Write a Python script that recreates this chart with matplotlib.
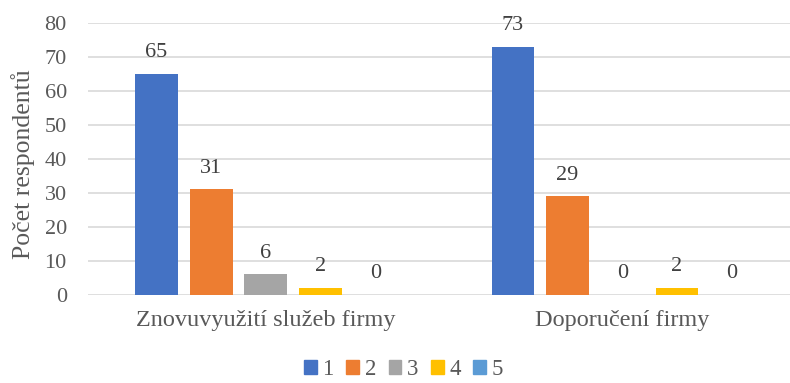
import matplotlib
matplotlib.use("Agg")
import matplotlib.pyplot as plt
from matplotlib.patches import Patch
import numpy as np

categories = ["Znovuvyužití služeb firmy", "Doporučení firmy"]
series = ["1", "2", "3", "4", "5"]
values = [
    [65, 73],  # 1
    [31, 29],  # 2
    [6, 0],    # 3
    [2, 2],    # 4
    [0, 0],    # 5
]
colors = ["#4472C4", "#ED7D31", "#A5A5A5", "#FFC000", "#5B9BD5"]
yticks = [0, 10, 20, 30, 40, 50, 60, 70, 80]

plt.rcParams['font.family'] = ['Liberation Serif', 'DejaVu Serif']
txt = "#595959"

fig = plt.figure(figsize=(7.9, 3.83), dpi=100)
# plot area runs a little past the right edge, as in the original crop
ax = fig.add_axes([0.1109, 0.2305, 0.9024, 0.7095])

x = np.arange(len(categories))
step = 0.1534
width = 0.1198
for i, (name, vals) in enumerate(zip(series, values)):
    pos = x + (i - 2) * step
    bars = ax.bar(pos, vals, width, color=colors[i], label=name, zorder=3)
    for b, v in zip(bars, vals):
        ax.annotate(str(v), (b.get_x() + b.get_width() / 2, v),
                    xytext=(0, 12), textcoords="offset points",
                    ha="center", va="baseline", fontsize=16, color="#404040")

ax.set_xlim(-0.5, 1.5)
ax.set_ylim(0, 80)
ax.set_yticks(yticks)
ax.set_xticks(x)
ax.set_xticklabels(categories, fontsize=17.5)
ax.tick_params(axis="both", length=0, labelcolor=txt)
ax.tick_params(axis="y", labelsize=16, pad=15)
ax.tick_params(axis="x", pad=11)
ax.yaxis.grid(True, color="#D9D9D9", linewidth=1.2, zorder=0)
for s in ax.spines.values():
    s.set_visible(False)
ax.set_ylabel("Počet respondentů", fontsize=18.5, color=txt)
ax.yaxis.set_label_coords(-0.074, 0.48)

handles = [Patch(color=c, label=n) for c, n in zip(colors, series)]
fig.legend(handles=handles, loc="center", ncol=5, frameon=False,
           bbox_to_anchor=(0.511, 0.034), fontsize=16.5, labelcolor=txt,
           handlelength=0.55, handleheight=0.55, handletextpad=0.25,
           columnspacing=0.55, borderpad=0.05)

fig.savefig("out.png", dpi=100)
